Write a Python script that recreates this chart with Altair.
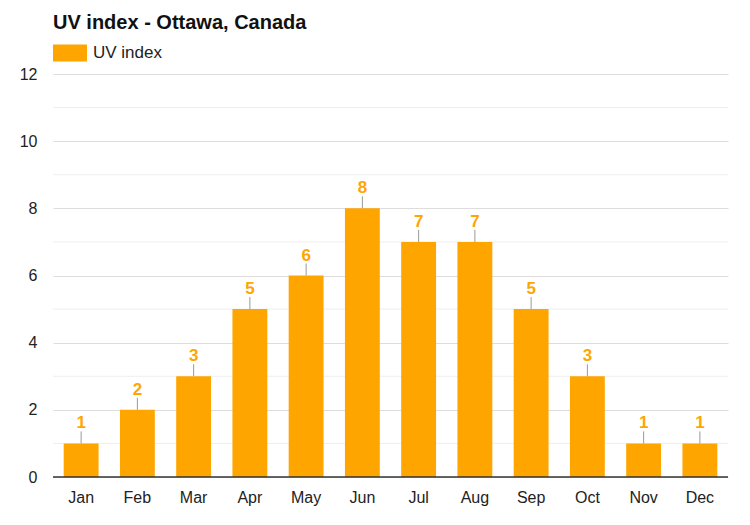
import altair as alt
import pandas as pd

months = ["Jan", "Feb", "Mar", "Apr", "May", "Jun", "Jul", "Aug", "Sep", "Oct", "Nov", "Dec"]
uv = [1, 2, 3, 5, 6, 8, 7, 7, 5, 3, 1, 1]
major_ticks = [0, 2, 4, 6, 8, 10, 12]
minor_ticks = [1, 3, 5, 7, 9, 11]

df = pd.DataFrame({"month": months, "uv": uv, "series": ["UV index"] * len(months)})
minor_df = pd.DataFrame({"v": minor_ticks})

FONT = "Liberation Sans"
ORANGE = "#FFA500"
TXT = "#222222"

yscale = alt.Scale(domain=[0, 12], nice=False)
yaxis = alt.Axis(values=major_ticks, labelFontSize=16, labelColor=TXT, labelFont=FONT,
                 ticks=False, domain=False, gridColor="#dddddd", labelPadding=16, title=None)

xenc = alt.X("month:N", sort=months, title=None,
             scale=alt.Scale(paddingInner=0.38, paddingOuter=0.19),
             axis=alt.Axis(labelAngle=0, labelFontSize=16, labelColor=TXT, labelFont=FONT,
                           ticks=False, domain=False, labelPadding=12, title=None))

minor = alt.Chart(minor_df).mark_rule(color="#eeeeee", strokeWidth=1).encode(
    y=alt.Y("v:Q", scale=yscale, axis=yaxis, title=None)
)

bars = alt.Chart(df).mark_bar(color=ORANGE).encode(
    x=xenc,
    y=alt.Y("uv:Q", scale=yscale, title=None),
    color=alt.Color("series:N", scale=alt.Scale(range=[ORANGE]),
                    legend=alt.Legend(title=None, orient="none", legendX=0, legendY=-38,
                                      symbolType="M-1,-0.5H1V0.5H-1Z", symbolSize=1156,
                                      symbolStrokeWidth=0, symbolOpacity=1,
                                      labelFontSize=17, labelColor=TXT, labelFont=FONT,
                                      labelOffset=6)),
)

baseline = alt.Chart(pd.DataFrame({"v": [0]})).mark_rule(color="#333333", strokeWidth=1.5).encode(
    y=alt.Y("v:Q", scale=yscale, title=None)
)

ticks = alt.Chart(df).mark_rule(color="#999999", strokeWidth=1, y2Offset=-12).encode(
    x=alt.X("month:N", sort=months, title=None),
    y=alt.Y("uv:Q", scale=yscale, title=None),
    y2=alt.Y2("uv:Q"),
)

labels = alt.Chart(df).mark_text(color=ORANGE, fontSize=17, fontWeight="bold", font=FONT,
                                 baseline="alphabetic", dy=-15).encode(
    x=alt.X("month:N", sort=months, title=None),
    y=alt.Y("uv:Q", scale=yscale, title=None),
    text="uv:Q",
)

chart = alt.layer(minor, bars, baseline, ticks, labels).properties(
    width=675, height=403,
    autosize=alt.AutoSizeParams(type="none"),
    padding={"left": 45, "top": 66, "right": 14, "bottom": 40},
    title=alt.Title("UV index - Ottawa, Canada", anchor="start", frame="group",
                    font=FONT, fontSize=20, fontWeight="bold", color="#111", offset=3),
).configure(background="white").configure_view(strokeWidth=0, stroke=None)

chart.save("out.html", embed_options={"renderer": "svg", "actions": False})
